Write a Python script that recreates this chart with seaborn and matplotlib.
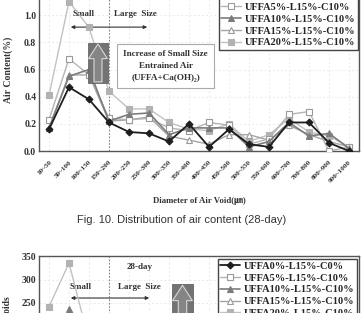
import numpy as np
import pandas as pd
import matplotlib
matplotlib.use("Agg")
import matplotlib.pyplot as plt
import seaborn as sns
from matplotlib.patches import Rectangle, Polygon

categories = ["10~50", "50~100", "100~150", "150~200", "200~250", "250~300",
              "300~350", "350~400", "400~450", "450~500", "500~550", "550~600",
              "600~700", "700~800", "800~900", "900~1000"]
series_names = ["UFFA0%-L15%-C0%", "UFFA5%-L15%-C10%", "UFFA10%-L15%-C10%",
                "UFFA15%-L15%-C10%", "UFFA20%-L15%-C10%"]

# Fig. 10 - air content (%)
air_uffa0 = [0.16, 0.47, 0.38, 0.21, 0.14, 0.13, 0.07, 0.20, 0.03, 0.16, 0.05, 0.03, 0.21, 0.21, 0.06, 0.00]
air_uffa5 = [0.23, 0.68, 0.56, 0.24, 0.23, 0.24, 0.17, 0.15, 0.21, 0.19, 0.05, 0.09, 0.27, 0.29, 0.00, 0.03]
air_uffa10 = [0.17, 0.55, 0.60, 0.22, 0.27, 0.28, 0.12, 0.17, 0.17, 0.17, 0.03, 0.07, 0.21, 0.11, 0.13, 0.02]
air_uffa15 = [0.17, 0.56, 0.56, 0.22, 0.23, 0.25, 0.11, 0.08, 0.05, 0.12, 0.12, 0.08, 0.19, 0.12, 0.07, 0.03]
air_uffa20 = [0.41, 1.10, 0.91, 0.44, 0.31, 0.31, 0.21, 0.16, 0.15, 0.20, 0.07, 0.12, 0.24, 0.14, 0.11, 0.03]

# Next figure - number of voids (only upper part visible)
voids_uffa0 = [120, 180, 150, 90, 60, 50, 30, 40, 10, 30, 10, 8, 20, 15, 5, 0]
voids_uffa5 = [130, 215, 180, 100, 70, 60, 40, 35, 30, 30, 12, 15, 30, 30, 3, 4]
voids_uffa10 = [110, 237, 190, 95, 75, 70, 35, 40, 35, 30, 8, 12, 25, 18, 20, 3]
voids_uffa15 = [100, 210, 185, 95, 70, 65, 30, 20, 12, 20, 20, 12, 22, 18, 10, 4]
voids_uffa20 = [242, 335, 170, 120, 80, 75, 50, 40, 35, 35, 15, 20, 30, 20, 15, 4]

air_values = [air_uffa0, air_uffa5, air_uffa10, air_uffa15, air_uffa20]
void_values = [voids_uffa0, voids_uffa5, voids_uffa10, voids_uffa15, voids_uffa20]


def long_frame(values):
    rows = []
    for name, vals in zip(series_names, values):
        for i, (cat, v) in enumerate(zip(categories, vals)):
            rows.append({"series": name, "category": cat, "pos": i, "value": v})
    return pd.DataFrame(rows)


df_air = long_frame(air_values)
df_voids = long_frame(void_values)

sns.set_theme(style="white")
plt.rcParams["font.family"] = ["Liberation Serif", "DejaVu Serif", "Noto Sans CJK JP"]
plt.rcParams["font.weight"] = "bold"

styles = [
    dict(color="#1e1e1e", marker="D", markerfacecolor="#1e1e1e", markeredgecolor="#1e1e1e", markersize=3.5, linewidth=1.3, zorder=10),
    dict(color="#b4b4b4", marker="s", markerfacecolor="white", markeredgecolor="#9a9a9a", markersize=4, linewidth=1.0, zorder=7),
    dict(color="#7c7c7c", marker="^", markerfacecolor="#7c7c7c", markeredgecolor="#7c7c7c", markersize=4.5, linewidth=1.2, zorder=8),
    dict(color="#a4a4a4", marker="^", markerfacecolor="white", markeredgecolor="#9a9a9a", markersize=4.5, linewidth=1.0, zorder=6),
    dict(color="#c2c2c2", marker="s", markerfacecolor="#b2b2b2", markeredgecolor="#b2b2b2", markersize=4.5, linewidth=1.0, zorder=5),
]

fig = plt.figure(figsize=(3.64, 3.13), dpi=100)
ax1 = fig.add_axes([39 / 364, 162 / 313, 320 / 364, 163 / 313])
ax2 = fig.add_axes([39 / 364, -107.5 / 313, 320 / 364, 164.5 / 313])

legend_kw = dict(frameon=True, fancybox=False, edgecolor="#444444", framealpha=1,
                 prop={"family": "Liberation Serif", "weight": "bold", "size": 7.5},
                 labelspacing=0.24, handlelength=1.9, handletextpad=0.35,
                 borderpad=0.25, borderaxespad=0)


def draw(ax, df):
    for name, st in zip(series_names, styles):
        sub = df[df["series"] == name]
        sns.lineplot(data=sub, x="pos", y="value", ax=ax, label=name,
                     markeredgewidth=0.8, **st)
    ax.set_xlim(-0.5, len(categories) - 0.5)
    ax.set_xticks(range(len(categories)))
    ax.set_xticklabels(categories, rotation=45, ha="right", rotation_mode="anchor",
                       fontsize=5.2, fontweight="bold", color="#333333")
    ax.tick_params(axis="both", length=0, pad=2)
    ax.tick_params(axis="x", pad=6)
    ax.set_xlabel("")
    ax.set_ylabel("")
    ax.grid(True, color="#e4e4e4", linestyle=(0, (3, 3)), linewidth=0.5)
    for s in ax.spines.values():
        s.set_color("#555555")
        s.set_linewidth(1.0)
    ax.axvline(3, color="#888888", linestyle=(0, (1.5, 1.5)), linewidth=0.8, zorder=2)


def style_yticks(ax):
    for lab in ax.get_yticklabels():
        lab.set_fontsize(7)
        lab.set_fontweight("bold")
        lab.set_color("#333333")


def up_arrow(ax, x0, x1, y0, y1, yhead):
    xm = (x0 + x1) / 2
    w = x1 - x0
    ax.add_patch(Rectangle((x0, y0), w, y1 - y0, facecolor="#737373",
                           edgecolor="#666666", linewidth=0.6, zorder=11))
    pts = [(xm - 0.2 * w, y0 + 0.03 * (y1 - y0)), (xm - 0.2 * w, yhead),
           (xm - 0.47 * w, yhead), (xm, y1 - 0.02 * (y1 - y0)),
           (xm + 0.47 * w, yhead), (xm + 0.2 * w, yhead),
           (xm + 0.2 * w, y0 + 0.03 * (y1 - y0))]
    ax.add_patch(Polygon(pts, closed=True, facecolor="#858585",
                         edgecolor="#d8d8d8", linewidth=0.8, zorder=12))


# ---- top chart: air content
draw(ax1, df_air)
ax1.set_ylim(0, 1.2)
ax1.set_yticks([0.0, 0.2, 0.4, 0.6, 0.8, 1.0])
ax1.set_yticklabels(["0.0", "0.2", "0.4", "0.6", "0.8", "1.0"])
style_yticks(ax1)
ax1.legend(loc="lower right", bbox_to_anchor=(0.997, 0.62), **legend_kw).get_frame().set_linewidth(1.0)

ax1.text(1.72, 1.005, "Small", ha="center", va="center", fontsize=6.5, fontweight="bold", color="#333")
ax1.text(3.25, 1.005, "Large  Size", ha="left", va="center", fontsize=6.5, fontweight="bold", color="#333")
ax1.annotate("", xy=(0.95, 0.912), xytext=(5.05, 0.912),
             arrowprops=dict(arrowstyle="<|-|>", color="#333333", lw=0.8, mutation_scale=5))
up_arrow(ax1, 1.95, 2.95, 0.50, 0.794, 0.68)
ax1.text(5.83, 0.625, "Increase of Small Size\nEntrained Air\n(UFFA+Ca(OH)\u2082)",
         ha="center", va="center", fontsize=6.6, fontweight="bold", color="#333",
         linespacing=1.65, zorder=13,
         bbox=dict(boxstyle="square,pad=0.7", facecolor="white", edgecolor="#aaaaaa", linewidth=0.8))

fig.text(8 / 364, 1 - 70 / 313, "Air Content(%)", rotation=90, ha="center", va="center",
         fontsize=7, fontweight="bold", color="#333")
fig.text(199 / 364, 1 - 201 / 313, "Diameter of Air Void(\u339b)", ha="center", va="center",
         fontsize=6.3, fontweight="bold", color="#333",
         family=["Liberation Serif", "Noto Sans CJK JP", "DejaVu Sans"])
fig.text(0.499, 1 - 220 / 313, "Fig. 10. Distribution of air content (28-day)",
         ha="center", va="center", fontsize=8, fontweight="normal",
         family=["Liberation Sans", "DejaVu Sans"], color="#333")

# ---- bottom chart: number of voids
draw(ax2, df_voids)
ax2.set_ylim(0, 350)
ax2.set_yticks([0, 50, 100, 150, 200, 250, 300, 350])
style_yticks(ax2)
ax2.legend(loc="upper right", bbox_to_anchor=(0.994, 0.982), **legend_kw).get_frame().set_linewidth(1.0)
ax2.text(4.55, 326, "28-day", ha="center", va="center", fontsize=6.5, fontweight="bold", color="#333")
ax2.text(1.6, 284, "Small", ha="center", va="center", fontsize=6.5, fontweight="bold", color="#333")
ax2.text(3.45, 284, "Large  Size", ha="left", va="center", fontsize=6.5, fontweight="bold", color="#333")
ax2.annotate("", xy=(0.95, 260.6), xytext=(5.15, 260.6),
             arrowprops=dict(arrowstyle="<|-|>", color="#333333", lw=0.8, mutation_scale=5))
up_arrow(ax2, 6.15, 7.2, 180, 290, 255)
fig.text(8 / 364, 1 - 296 / 313, "Number of Voids", rotation=90, ha="center", va="top",
         fontsize=7, fontweight="bold", color="#333")

fig.savefig("out.png", dpi=100)
